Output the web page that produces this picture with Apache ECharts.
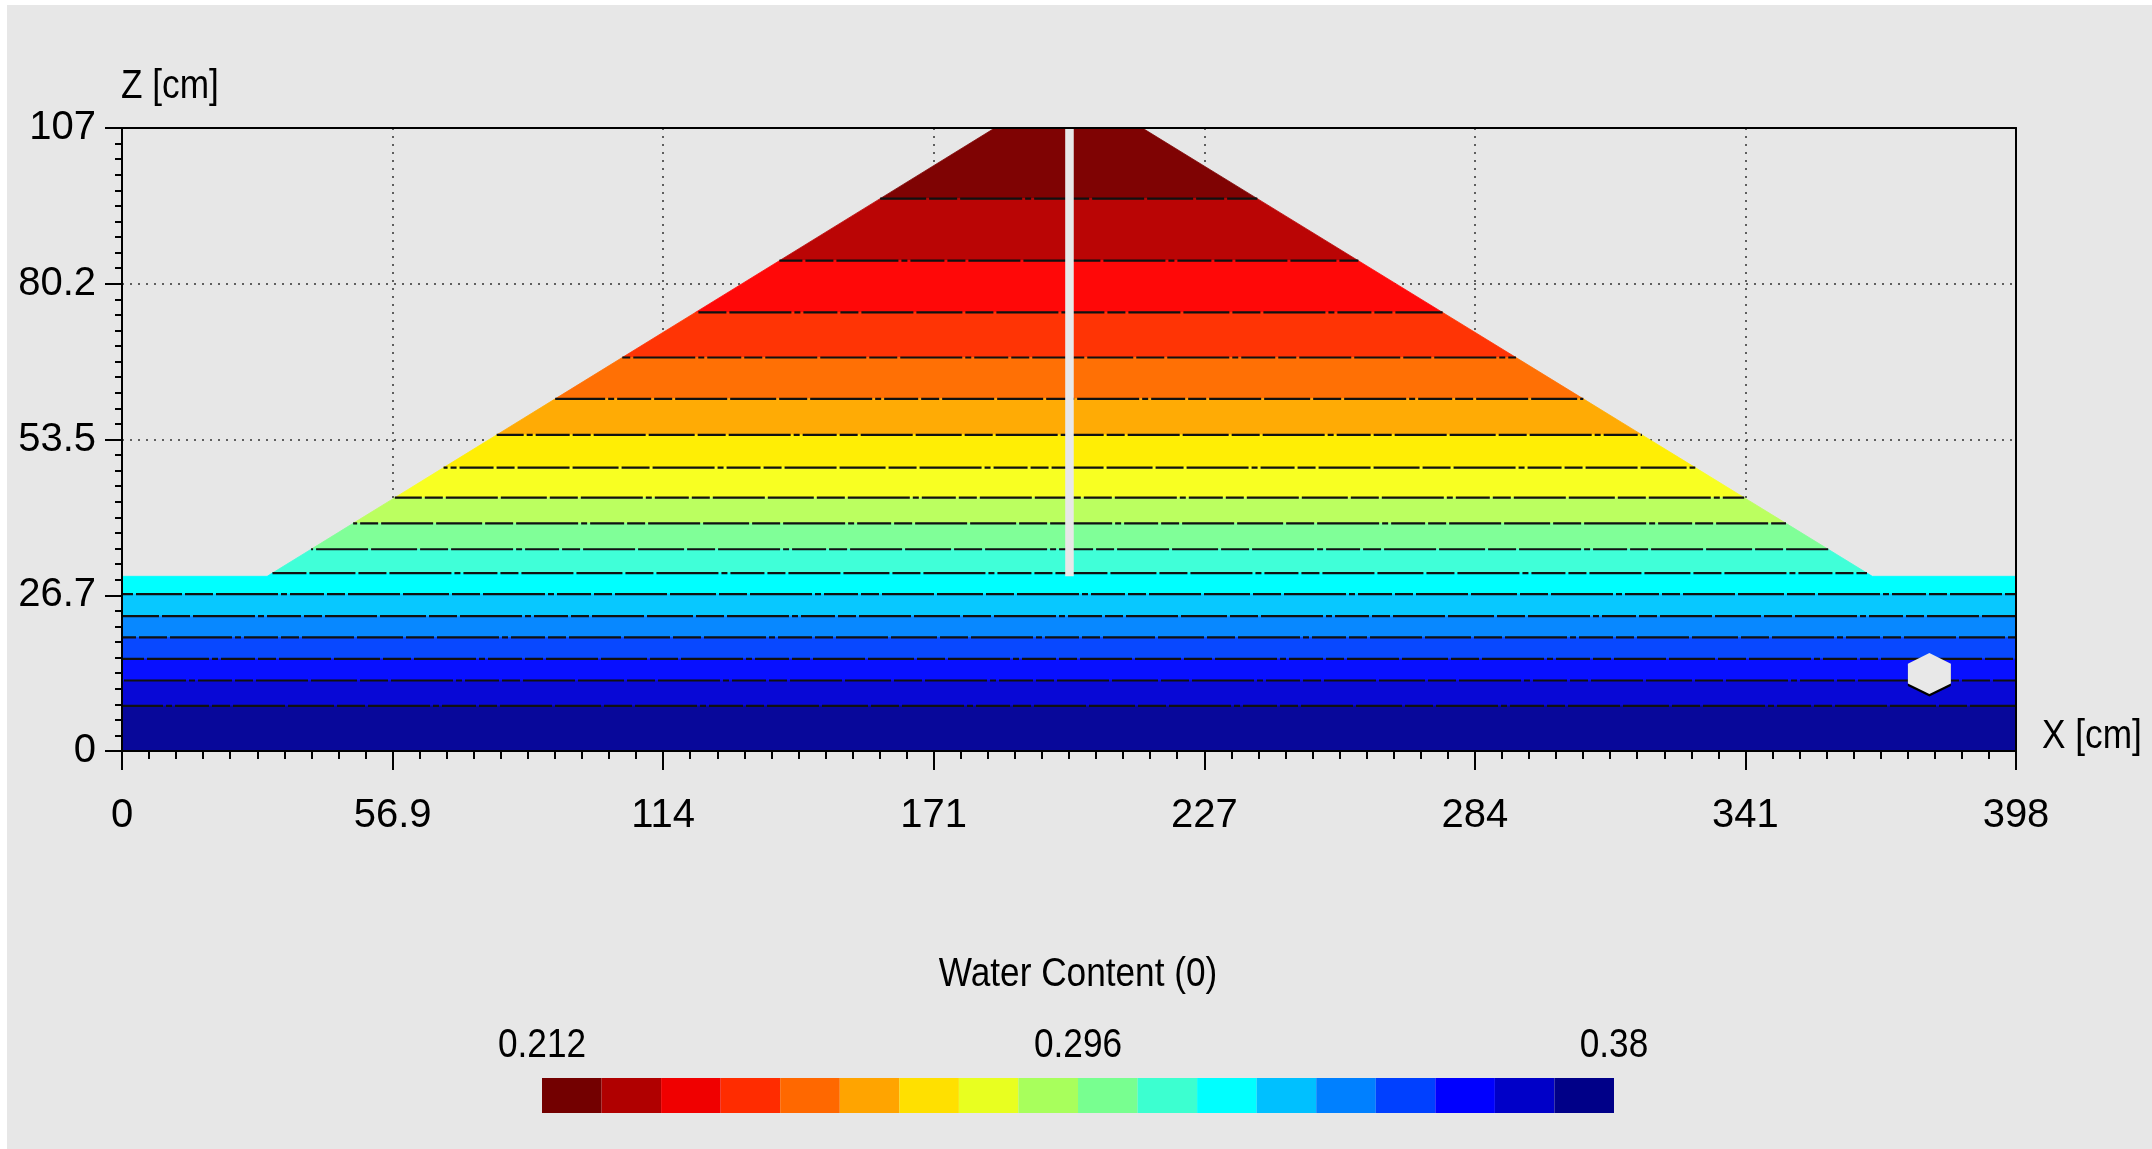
<!DOCTYPE html>
<html>
<head>
<meta charset="utf-8">
<script src="https://cdn.jsdelivr.net/npm/echarts@6/dist/echarts.min.js"></script>
<style>
html,body{margin:0;padding:0;background:#ffffff;}
#c{width:2152px;height:1149px;}
</style>
</head>
<body>
<div id="c"></div>
<script>
// ---------- data ----------
const xTickLabels = ['0', '56.9', '114', '171', '227', '284', '341', '398'];
const zTickLabels = ['0', '26.7', '53.5', '80.2', '107'];
const xMax = 398;
const zMax = 107;

// outline of foundation + dam, left and right flanks listed bottom -> top
const leftFlankX  = [0, 0, 30.5, 183.4];
const leftFlankZ  = [0, 30.0, 30.0, 107];
const rightFlankX = [398, 398, 367.8, 214.4];
const rightFlankZ = [0, 30.0, 30.0, 107];

// contour lines (band boundaries), top -> bottom
const contourZ = [94.87, 84.21, 75.32, 67.58, 60.48, 54.29, 48.67, 43.51, 39.10,
                  34.65, 30.56, 26.95, 23.16, 19.50, 15.82, 12.11, 7.74];

// band fill colours, top (driest) -> bottom (wettest)
const bandColors = ['#7f0303', '#ba0505', '#ff0808', '#ff3405', '#ff7005', '#ffab05',
                    '#ffee05', '#f8ff22', '#bbff60', '#80ff98', '#40ffd8', '#00ffff',
                    '#08c8ff', '#0888ff', '#0848ff', '#0810ff', '#0808d6', '#08089a'];

// colour scale
const wcMin = 0.212, wcMax = 0.38;
const legendTitle = 'Water Content (0)';
const legendLabels = ['0.212', '0.296', '0.38'];
const legendColors = ['#730000', '#b00000', '#f00000', '#ff2c00', '#ff6800', '#ffa400',
                      '#ffe000', '#e8ff20', '#a8ff5c', '#78ff90', '#3cffd0', '#00ffff',
                      '#00c0ff', '#0080ff', '#0040ff', '#0000ff', '#0000c8', '#000088'];

// observation pole (x range, z range)
const poleX = [198.2, 200.0];
const poleZ = [30.0, 107];

// drain
const drainX = [379.8];
const drainZ = [13.3];

// ---------- helpers ----------
const FONT = "'Liberation Sans', Arial, sans-serif";
const xStep = xMax / (xTickLabels.length - 1);
const zStep = zMax / (zTickLabels.length - 1);
const bounds = [zMax].concat(contourZ, [0]);
const nBands = bandColors.length;
const wcStep = (wcMax - wcMin) / nBands;

function interp(fx, fz, z) {
  for (let k = 0; k < fz.length - 1; k++) {
    if (z >= fz[k] && z <= fz[k + 1] && fz[k + 1] > fz[k]) {
      const t = (z - fz[k]) / (fz[k + 1] - fz[k]);
      return fx[k] + t * (fx[k + 1] - fx[k]);
    }
  }
  return fx[fx.length - 1];
}
function flank(fx, fz, lo, hi) {
  const pts = [[interp(fx, fz, lo), lo]];
  for (let k = 0; k < fz.length; k++) {
    if (fz[k] > lo && fz[k] < hi) pts.push([fx[k], fz[k]]);
  }
  pts.push([interp(fx, fz, hi), hi]);
  return pts;
}

const bandData = bandColors.map((c, i) => [i, wcMin + (i + 0.5) * wcStep]);
const contourData = contourZ.map((z, i) => [i, z]);
const poleData = [[poleX[0], poleZ[0], poleX[1], poleZ[1]]];
const drainData = drainX.map((x, i) => [x, drainZ[i]]);

const lineBlack = { color: '#000', width: 2 };
const tickFont = { fontFamily: FONT, fontSize: 40, color: '#000' };
function label(text, x, y, align) {
  return { type: 'text', x: x, y: y, z: 100, scaleX: 0.88,
           style: { text: text, font: '40px ' + FONT, fill: '#000', align: align, verticalAlign: 'middle' } };
}

const chart = echarts.init(document.getElementById('c'), null, { renderer: 'canvas' });
chart.setOption({
  animation: false,
  backgroundColor: '#e7e7e7',
  grid: { left: 122, top: 128, width: 1894, height: 623, containLabel: false, outerBoundsMode: 'none' },
  xAxis: [
    { type: 'value', min: 0, max: xMax, interval: xStep, position: 'bottom', z: 10,
      axisLine: { show: true, onZero: false, lineStyle: lineBlack },
      axisTick: { show: true, length: 19, lineStyle: lineBlack },
      minorTick: { show: true, splitNumber: 10, length: 8, lineStyle: lineBlack },
      axisLabel: Object.assign({ margin: 45, formatter: v => xTickLabels[Math.round(v / xStep)] }, tickFont),
      splitLine: { show: false } },
    { type: 'value', min: 0, max: xMax, interval: xStep, position: 'bottom', z: 0,
      axisLine: { show: false }, axisTick: { show: false }, axisLabel: { show: false },
      splitLine: { show: true, lineStyle: { color: '#333', width: 1.5, type: [2, 6] } } },
    { type: 'value', min: 0, max: xMax, position: 'top', z: 10,
      axisLine: { show: true, onZero: false, lineStyle: lineBlack },
      axisTick: { show: false }, axisLabel: { show: false }, splitLine: { show: false } }
  ],
  yAxis: [
    { type: 'value', min: 0, max: zMax, interval: zStep, position: 'left', z: 10,
      axisLine: { show: true, onZero: false, lineStyle: lineBlack },
      axisTick: { show: true, length: 17, lineStyle: lineBlack },
      minorTick: { show: true, splitNumber: 10, length: 7, lineStyle: lineBlack },
      axisLabel: Object.assign({ margin: 26, formatter: v => zTickLabels[Math.round(v / zStep)] }, tickFont),
      splitLine: { show: false } },
    { type: 'value', min: 0, max: zMax, interval: zStep, position: 'left', z: 0,
      axisLine: { show: false }, axisTick: { show: false }, axisLabel: { show: false },
      splitLine: { show: true, lineStyle: { color: '#333', width: 1.5, type: [2, 6] } } },
    { type: 'value', min: 0, max: zMax, position: 'right', z: 10,
      axisLine: { show: true, onZero: false, lineStyle: lineBlack },
      axisTick: { show: false }, axisLabel: { show: false }, splitLine: { show: false } }
  ],
  visualMap: {
    type: 'piecewise', orient: 'horizontal', left: 542, top: 1078,
    min: wcMin, max: wcMax, splitNumber: nBands, seriesIndex: 0, dimension: 1,
    itemWidth: 1072 / nBands, itemHeight: 35, itemGap: 0, itemSymbol: 'rect',
    showLabel: false, padding: 0, hoverLink: false, selectedMode: false,
    inRange: { color: legendColors }
  },
  graphic: [
    { type: 'rect', left: 0, top: 0, z: 100, shape: { width: 7, height: 1149 }, style: { fill: '#fff' } },
    { type: 'rect', left: 0, top: 0, z: 100, shape: { width: 2152, height: 5 }, style: { fill: '#fff' } },
    label('Z [cm]', 121, 87, 'left'),
    label('X [cm]', 2042, 737, 'left'),
    label(legendTitle, 1078, 975, 'center'),
    label(legendLabels[0], 542, 1046, 'center'),
    label(legendLabels[1], 1078, 1046, 'center'),
    label(legendLabels[2], 1614, 1046, 'center')
  ],
  series: [
    { type: 'custom', name: 'bands', xAxisIndex: 0, yAxisIndex: 0, silent: true, z: 2,
      data: bandData,
      renderItem: function (params, api) {
        const i = api.value(0);
        const hi = bounds[i], lo = bounds[i + 1];
        const L = flank(leftFlankX, leftFlankZ, lo, hi);
        const R = flank(rightFlankX, rightFlankZ, lo, hi).reverse();
        const pts = L.concat(R).map(p => api.coord(p));
        return { type: 'polygon', shape: { points: pts },
                 style: { fill: bandColors[i], stroke: bandColors[i], lineWidth: 0.8 } };
      } },
    { type: 'custom', name: 'contours', xAxisIndex: 0, yAxisIndex: 0, silent: true, z: 3,
      data: contourData,
      renderItem: function (params, api) {
        const i = api.value(0);
        const z = api.value(1);
        const p1 = api.coord([interp(leftFlankX, leftFlankZ, z), z]);
        const p2 = api.coord([interp(rightFlankX, rightFlankZ, z), z]);
        return { type: 'line', shape: { x1: p1[0], y1: p1[1], x2: p2[0], y2: p2[1] },
                 style: { stroke: '#111', lineWidth: 2.2,
                          lineDash: [46, 3, 28, 3, 62, 3, 6, 3, 34, 3, 18, 3, 52, 3],
                          lineDashOffset: i * 23 } };
      } },
    { type: 'custom', name: 'pole', xAxisIndex: 0, yAxisIndex: 0, silent: true, z: 4,
      data: poleData,
      renderItem: function (params, api) {
        const a = api.coord([api.value(0), api.value(1)]);
        const b = api.coord([api.value(2), api.value(3)]);
        return { type: 'rect', shape: { x: a[0], y: b[1], width: b[0] - a[0], height: a[1] - b[1] },
                 style: { fill: '#e8e8e8' } };
      } },
    { type: 'scatter', name: 'drain', xAxisIndex: 0, yAxisIndex: 0, silent: true, z: 5,
      data: drainData,
      symbol: 'path://M50,0 L100,26 L100,74 L50,100 L0,74 L0,26 Z',
      symbolSize: [43, 41],
      itemStyle: { color: '#e8e8e8', opacity: 1, shadowColor: '#000', shadowBlur: 0, shadowOffsetY: 2.5 } }
  ]
});
</script>
</body>
</html>
